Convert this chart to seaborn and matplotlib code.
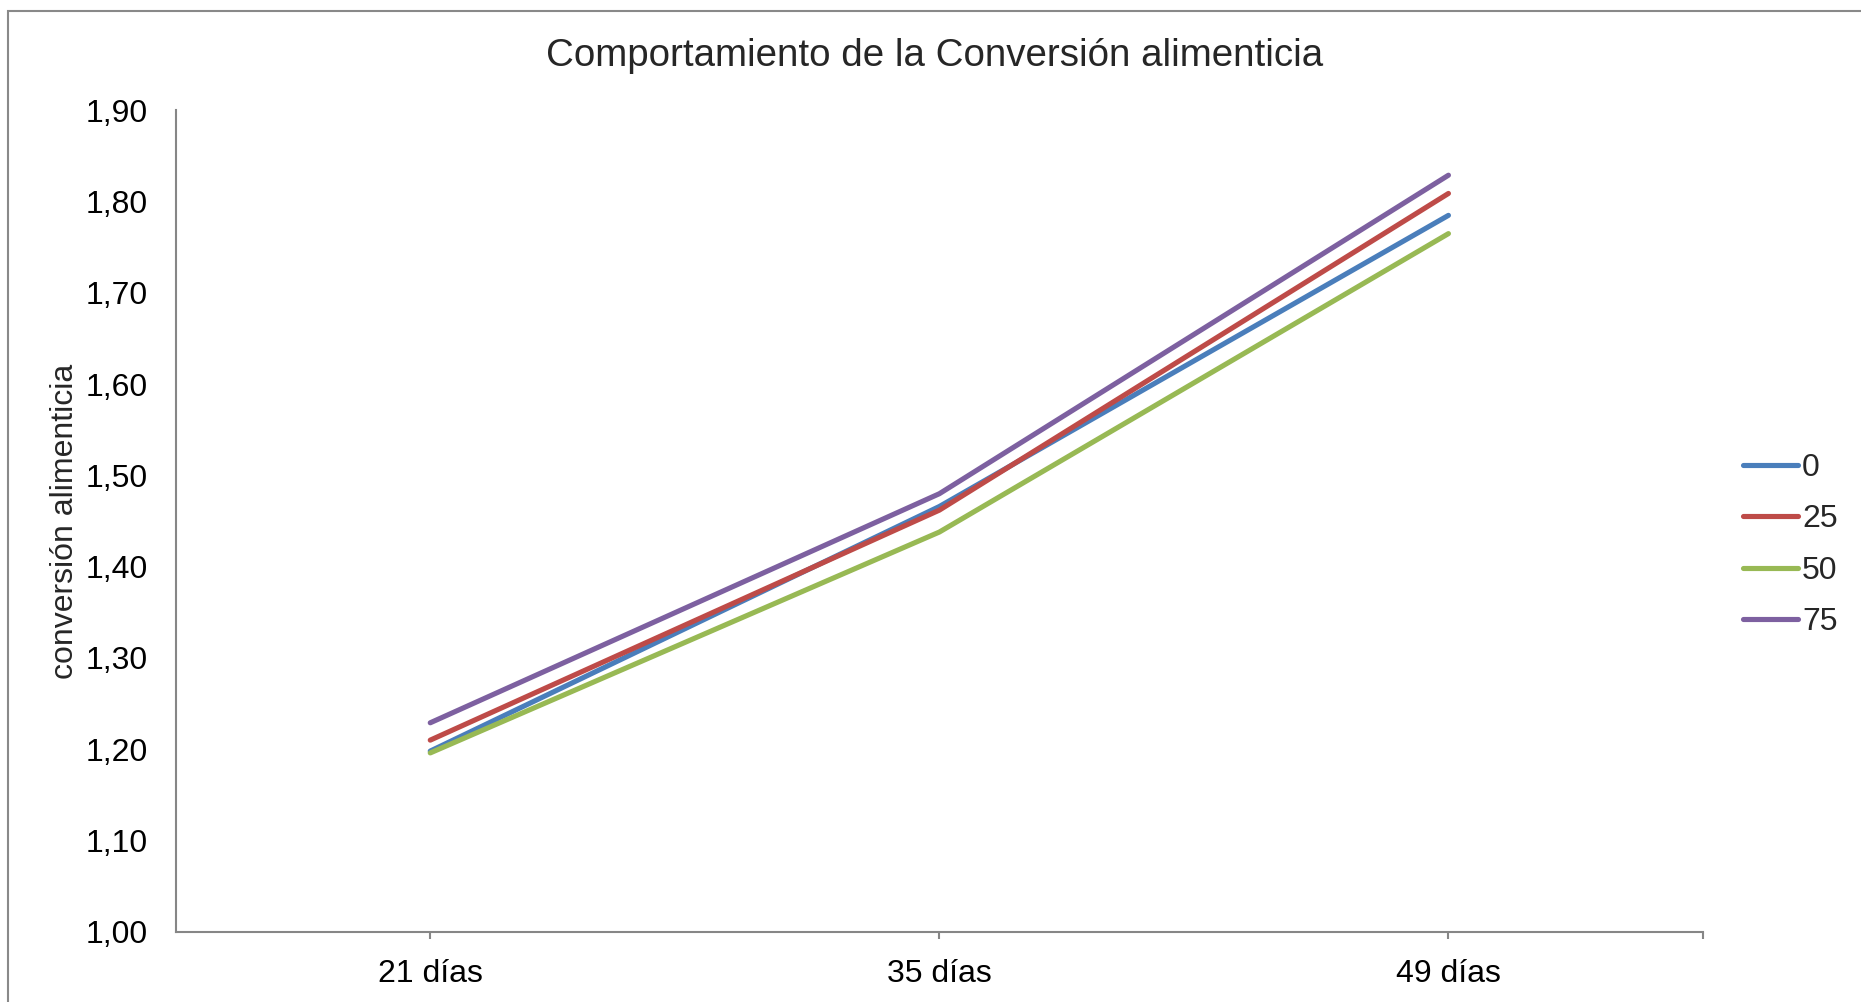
import matplotlib
matplotlib.use("Agg")
import matplotlib.pyplot as plt
import matplotlib.ticker as mticker
import seaborn as sns
import pandas as pd

# Feed conversion by age for each inclusion level
dias = ["21 días", "35 días", "49 días"]
niveles = ["0", "25", "50", "75"]
serie_0 = [1.198, 1.466, 1.785]
serie_25 = [1.210, 1.462, 1.809]
serie_50 = [1.196, 1.438, 1.765]
serie_75 = [1.229, 1.480, 1.829]
colores = ["#4A7EBB", "#BE4B48", "#98B954", "#7D60A0"]

rows = []
for nivel, valores in zip(niveles, [serie_0, serie_25, serie_50, serie_75]):
    for d, v in zip(dias, valores):
        rows.append({"dia": d, "nivel": nivel, "conversion": v})
df = pd.DataFrame(rows)

sns.set_theme(style="white")
plt.rcParams["font.family"] = ["Liberation Sans", "DejaVu Sans"]

W, H = 1861, 1002
ax_left, ax_right, ax_top, ax_bottom = 175.7, 1703.0, 110.4, 931.8
fig = plt.figure(figsize=(W / 100, H / 100), dpi=100)
ax = fig.add_axes([ax_left / W, 1 - ax_bottom / H,
                   (ax_right - ax_left) / W, (ax_bottom - ax_top) / H])

sns.lineplot(data=df, x="dia", y="conversion", hue="nivel", hue_order=niveles,
             palette=colores, linewidth=3.7, sort=False, ax=ax,
             solid_capstyle="round", solid_joinstyle="round", legend=False)

ax.set_xlim(-0.5, 2.5)
ax.set_ylim(1.0, 1.9)
ax.set_yticks([1.0 + 0.1 * i for i in range(10)])
ax.yaxis.set_major_formatter(mticker.FuncFormatter(lambda v, p: f"{v:.2f}".replace(".", ",")))
ax.set_xticks([0, 1, 2])
ax.set_xticklabels(dias)
ax.set_xticks([2.5], minor=True)

spine_col = "#868686"
for side in ["top", "right"]:
    ax.spines[side].set_visible(False)
for side in ["left", "bottom"]:
    ax.spines[side].set_color(spine_col)
    ax.spines[side].set_linewidth(1.5)

ax.tick_params(axis="y", which="both", length=0, pad=20, labelsize=23, labelcolor="black")
ax.tick_params(axis="x", which="both", length=5, width=1.5, color=spine_col,
               direction="out", pad=14.5, labelsize=23, labelcolor="black", bottom=True)

ax.set_xlabel("")
ax.set_ylabel("conversión alimenticia", fontsize=23)
ax.yaxis.set_label_coords((80 - ax_left) / (ax_right - ax_left), 0.5)

fig.text(935 / W, 1 - 56 / H, "Comportamiento de la Conversión alimenticia",
         ha="center", va="center", fontsize=27.7)

# Legend built from the drawn lines
handles = ax.get_lines()[:4]
leg = fig.legend(handles, niveles, loc="center left",
                 bbox_to_anchor=(1743 / W, 1 - 545 / H), frameon=False,
                 fontsize=23, handlelength=1.72, handletextpad=0.13,
                 labelspacing=0.67, borderpad=0, borderaxespad=0)

# Outer chart border
fig.add_artist(plt.Rectangle((8 / W, -0.05), 1.1, 1 - 11 / H + 0.05,
                             transform=fig.transFigure, fill=False,
                             edgecolor="#898989", linewidth=1.5))

fig.savefig("out.png", dpi=100)
